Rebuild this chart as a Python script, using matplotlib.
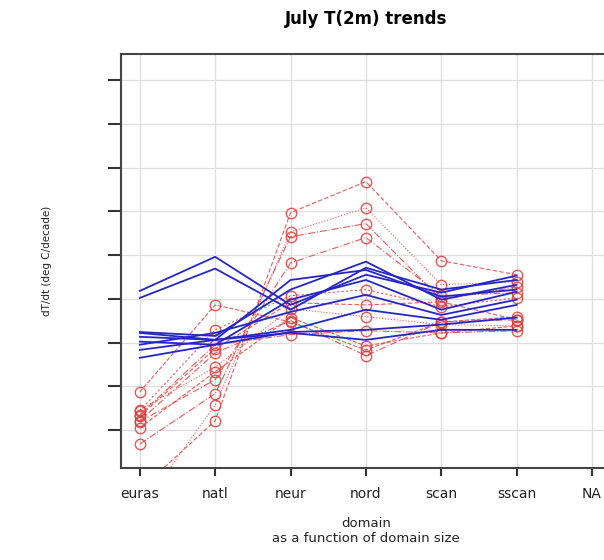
import numpy as np
import matplotlib
matplotlib.use("Agg")
import matplotlib.pyplot as plt

plt.rcParams['font.family'] = ['DejaVu Sans']

# domains, ordered by domain size
domains = ['euras', 'natl', 'neur', 'nord', 'scan', 'sscan', 'NA']

# July T(2m) trends (deg C/decade), one row per run
red_runs = [
    [-0.437, -0.279, 0.197, 0.268, 0.087, 0.055],
    [-0.483, -0.243, 0.153, 0.208, 0.032, 0.039],
    [-0.332, -0.217, 0.142, 0.172, -0.002, 0.027],
    [-0.281, -0.185, 0.082, 0.140, 0.007, 0.014],
    [-0.213, -0.014, -0.053, -0.117, -0.053, -0.041],
    [-0.256, -0.071, 0.007, 0.021, -0.018, 0.002],
    [-0.268, -0.114, -0.009, -0.014, -0.007, -0.048],
    [-0.254, -0.156, -0.023, -0.041, -0.059, -0.062],
    [-0.265, -0.105, -0.082, -0.073, -0.078, -0.073],
    [-0.279, -0.124, -0.050, -0.130, -0.053, -0.048],
    [-0.295, -0.167, -0.043, -0.108, -0.078, -0.062],
]
blue_runs = [
    [0.018, 0.096, -0.014, 0.055, 0.014, 0.053],
    [0.002, 0.069, -0.025, 0.071, 0.021, 0.043],
    [-0.076, -0.085, 0.021, 0.085, -0.002, 0.032],
    [-0.087, -0.094, 0.043, 0.066, 0.005, 0.021],
    [-0.098, -0.105, -0.002, 0.043, -0.025, 0.016],
    [-0.105, -0.078, -0.030, 0.009, -0.037, -0.002],
    [-0.117, -0.094, -0.071, -0.025, -0.048, -0.014],
    [-0.135, -0.105, -0.076, -0.071, -0.059, -0.043],
    [-0.078, -0.094, -0.078, -0.094, -0.071, -0.071],
]
yticks = [-0.3, -0.2, -0.1, 0.0, 0.1, 0.2, 0.3, 0.4, 0.5]

fig = plt.figure(figsize=(6.04, 5.6), dpi=100)
ax = fig.add_axes([0.2003, 0.1643, 0.811, 0.739])

x = np.arange(1, 7)
styles = [(0, (4, 2)), ':', '-.', (0, (6, 2, 1, 2)), '--', (0, (2, 2))]
for i, r in enumerate(red_runs):
    ax.plot(x, r, color='#e5403f', lw=0.8, ls=styles[i % len(styles)],
            marker='o', ms=7.5, mfc='none', mec='#e23b3b', mew=1.0, alpha=0.85)
for b in blue_runs:
    ax.plot(x, b, color='#2626c8', lw=1.3)

ax.set_xlim(0.75, 7.25)
ax.set_ylim(-0.387, 0.5595)
ax.set_xticks(np.arange(1, 8))
ax.set_xticklabels(domains, fontsize=10, color='#222222')
ax.set_yticks(yticks)
ax.set_yticklabels([])
ax.grid(True, color='#dedede', lw=0.9)
ax.set_axisbelow(True)
ax.tick_params(axis='x', length=6, width=1.5, color='#333333', pad=8)
ax.tick_params(axis='y', length=9.5, width=1.5, color='#333333')
for s in ax.spines.values():
    s.set_color('#444444')
    s.set_linewidth(1.5)

ax.set_title('July T(2m) trends', fontsize=12, fontweight='bold', pad=22)
ax.set_xlabel('domain\nas a function of domain size', fontsize=9.5, labelpad=11,
              linespacing=1.25, color='#222222')
ax.set_ylabel('dT/dt (deg C/decade)', fontsize=7.5, labelpad=37, color='#222222')

fig.savefig('out.png', dpi=100)
